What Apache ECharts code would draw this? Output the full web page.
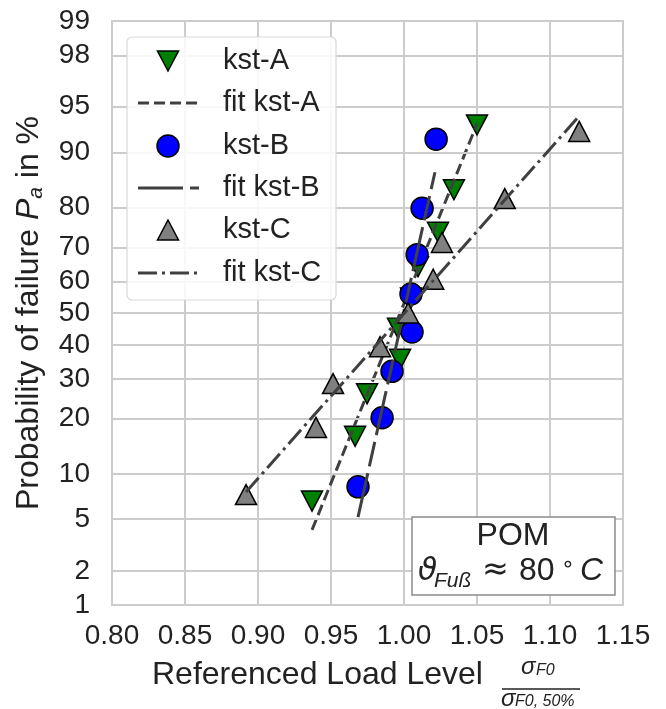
<!DOCTYPE html>
<html>
<head>
<meta charset="utf-8">
<script src="https://cdn.jsdelivr.net/npm/echarts@6/dist/echarts.min.js"></script>
<style>
html, body { margin: 0; padding: 0; background: #fff; }
#chart { width: 666px; height: 709px; }
</style>
</head>
<body>
<div id="chart"></div>
<script>
// kst-A (green, down triangles)
const kstAX = [0.937, 0.9665, 0.9747, 0.9973, 0.9959, 1.0048, 1.0096, 1.0233, 1.0342, 1.050];
const kstAP = [6.7, 16.3, 26.0, 35.6, 45.2, 54.8, 64.4, 74.0, 83.7, 93.3];
// kst-B (blue circles)
const kstBX = [0.9685, 0.985, 0.9918, 1.0055, 1.0048, 1.009, 1.0124, 1.022];
const kstBP = [8.3, 20.2, 32.1, 44.0, 56.0, 67.9, 79.8, 91.7];
// kst-C (grey up triangles)
const kstCX = [0.8918, 0.9397, 0.9514, 0.9836, 1.0028, 1.020, 1.026, 1.069, 1.120];
const kstCP = [7.4, 18.1, 28.7, 39.4, 50.0, 60.6, 71.3, 81.9, 92.6];
// fit lines (end points)
const fitAX = [0.937, 1.050];
const fitAP = [4.2, 93.4];
const fitBX = [0.9685, 1.0212];
const fitBP = [5.2, 86.9];
const fitCX = [0.8918, 1.1195];
const fitCP = [7.7, 94.1];
// y ticks in %
const yTicks = [1, 2, 5, 10, 20, 30, 40, 50, 60, 70, 80, 90, 95, 98, 99];

const FONT = 'Liberation Sans, Arial, sans-serif';
const TXT = '#222222';
const LINE = '#404040';

// inverse normal cdf, p in percent (probability paper)
function probit(p) {
  const q0 = p / 100;
  const a = [-39.69683028665376, 220.9460984245205, -275.9285104469687, 138.3577518672690, -30.66479806614716, 2.506628277459239];
  const b = [-54.47609879822406, 161.5858368580409, -155.6989798598866, 66.80131188771972, -13.28068155288572];
  const c = [-0.007784894002430293, -0.3223964580411365, -2.400758277161838, -2.549732539343734, 4.374664141464968, 2.938163982698783];
  const d = [0.007784695709041462, 0.3224671290700398, 2.445134137142996, 3.754408661907416];
  const pl = 0.02425;
  let q, r;
  if (q0 < pl) {
    q = Math.sqrt(-2 * Math.log(q0));
    return (((((c[0]*q+c[1])*q+c[2])*q+c[3])*q+c[4])*q+c[5]) / ((((d[0]*q+d[1])*q+d[2])*q+d[3])*q+1);
  }
  if (q0 > 1 - pl) {
    q = Math.sqrt(-2 * Math.log(1 - q0));
    return -(((((c[0]*q+c[1])*q+c[2])*q+c[3])*q+c[4])*q+c[5]) / ((((d[0]*q+d[1])*q+d[2])*q+d[3])*q+1);
  }
  q = q0 - 0.5; r = q * q;
  return (((((a[0]*r+a[1])*r+a[2])*r+a[3])*r+a[4])*r+a[5])*q / (((((b[0]*r+b[1])*r+b[2])*r+b[3])*r+b[4])*r+1);
}

const toPts = (xs, ps) => xs.map((x, i) => [x, probit(ps[i])]);
const yTickVals = yTicks.map(probit);

const chart = echarts.init(document.getElementById('chart'));

// legend (drawn by hand)
const legX = 168, legRows = [61, 103, 146, 188, 230, 273];
const legendItems = [];
legendItems.push({ type: 'rect', shape: { x: 127, y: 37, width: 209, height: 263, r: 5 },
  style: { fill: 'rgba(255,255,255,0.85)', stroke: '#d9d9d9', lineWidth: 1.2 }, z: 50 });
legendItems.push({ type: 'polygon', shape: { points: [[legX-10.5, legRows[0]-10], [legX+10.5, legRows[0]-10], [legX, legRows[0]+10]] },
  style: { fill: '#008000', stroke: '#000', lineWidth: 1.5 }, z: 51 });
legendItems.push({ type: 'circle', shape: { cx: legX, cy: legRows[2], r: 11 },
  style: { fill: '#0000ff', stroke: '#000', lineWidth: 1.5 }, z: 51 });
legendItems.push({ type: 'polygon', shape: { points: [[legX-10.5, legRows[4]+10], [legX+10.5, legRows[4]+10], [legX, legRows[4]-10]] },
  style: { fill: '#808080', stroke: '#000', lineWidth: 1.5 }, z: 51 });
[[1, [11, 5]], [3, [45, 7, 25, 7]], [5, [19, 5, 3, 5]]].forEach(([row, dash]) => {
  legendItems.push({ type: 'line', shape: { x1: 138, y1: legRows[row], x2: 199, y2: legRows[row] },
    style: { stroke: LINE, lineWidth: 3, lineDash: dash }, z: 51 });
});
['kst-A', 'fit kst-A', 'kst-B', 'fit kst-B', 'kst-C', 'fit kst-C'].forEach((t, i) => {
  legendItems.push({ type: 'text', x: 223, y: legRows[i], z: 51,
    style: { text: t, font: '29px ' + FONT, fill: TXT, textAlign: 'left', textVerticalAlign: 'middle' } });
});

// annotation box
const boxItems = [
  { type: 'rect', shape: { x: 412, y: 517, width: 203, height: 78 },
    style: { fill: '#fff', stroke: '#8c8c8c', lineWidth: 1.5 }, z: 50 },
  { type: 'text', x: 513, y: 536, z: 51, style: { text: 'POM', font: '32px ' + FONT, fill: TXT, textAlign: 'center', textVerticalAlign: 'middle' } },
  { type: 'text', x: 418, y: 572, z: 51, style: { text: 'ϑ', font: 'italic 31px DejaVu Sans, ' + FONT, fill: TXT, textAlign: 'left', textVerticalAlign: 'middle' } },
  { type: 'text', x: 434, y: 581, z: 51, style: { text: 'Fuß', font: 'italic 21px ' + FONT, fill: TXT, textAlign: 'left', textVerticalAlign: 'middle' } },
  { type: 'text', x: 482, y: 571, z: 51, style: { text: '≈', font: '32px DejaVu Sans, ' + FONT, fill: TXT, textAlign: 'left', textVerticalAlign: 'middle' } },
  { type: 'text', x: 519, y: 571, z: 51, style: { text: '80', font: '32px ' + FONT, fill: TXT, textAlign: 'left', textVerticalAlign: 'middle' } },
  { type: 'text', x: 561, y: 565, z: 51, style: { text: '∘', font: '22px DejaVu Sans, ' + FONT, fill: TXT, textAlign: 'left', textVerticalAlign: 'middle' } },
  { type: 'text', x: 580, y: 571, z: 51, style: { text: 'C', font: 'italic 32px ' + FONT, fill: TXT, textAlign: 'left', textVerticalAlign: 'middle' } }
];

// x axis title with fraction
const xTitle = [
  { type: 'text', x: 152, y: 675, style: { text: 'Referenced Load Level', font: '32px ' + FONT, fill: TXT, textAlign: 'left', textVerticalAlign: 'middle' } },
  { type: 'text', x: 521, y: 667, style: { text: 'σ', font: 'italic 24px ' + FONT, fill: TXT, textAlign: 'left', textVerticalAlign: 'middle' } },
  { type: 'text', x: 536, y: 671, style: { text: 'F0', font: 'italic 16px ' + FONT, fill: TXT, textAlign: 'left', textVerticalAlign: 'middle' } },
  { type: 'line', shape: { x1: 502, y1: 689, x2: 580, y2: 689 }, style: { stroke: TXT, lineWidth: 1.5 } },
  { type: 'text', x: 501, y: 699, style: { text: 'σ', font: 'italic 24px ' + FONT, fill: TXT, textAlign: 'left', textVerticalAlign: 'middle' } },
  { type: 'text', x: 515, y: 702, style: { text: 'F0, 50%', font: 'italic 16px ' + FONT, fill: TXT, textAlign: 'left', textVerticalAlign: 'middle' } }
];

const option = {
  animation: false,
  backgroundColor: '#ffffff',
  grid: { left: 112, top: 21, width: 511, height: 584, show: true, borderColor: '#cccccc', borderWidth: 2,
    containLabel: false, outerBoundsMode: 'none' },
  xAxis: {
    type: 'value', min: 0.8, max: 1.15, interval: 0.05,
    axisLine: { show: false }, axisTick: { show: false },
    axisLabel: { fontSize: 28, fontFamily: FONT, color: TXT, margin: 17, formatter: v => v.toFixed(2) },
    splitLine: { show: true, lineStyle: { color: '#cccccc', width: 2 } }
  },
  yAxis: {
    type: 'value', min: probit(1), max: probit(99),
    axisLine: { show: false }, axisTick: { show: false }, splitLine: { show: false },
    axisLabel: {
      customValues: yTickVals, fontSize: 28, fontFamily: FONT, color: TXT, margin: 22,
      formatter: v => {
        let best = 0;
        yTickVals.forEach((t, i) => { if (Math.abs(t - v) < Math.abs(yTickVals[best] - v)) best = i; });
        return String(yTicks[best]);
      }
    },
    name: '{n|Probability of failure }{i|P}{s|a}{n| in %}',
    nameLocation: 'middle', nameRotate: 90, nameGap: 65,
    nameTextStyle: {
      rich: {
        n: { fontSize: 32, fontFamily: FONT, color: TXT, lineHeight: 36 },
        i: { fontSize: 32, fontFamily: FONT, fontStyle: 'italic', color: TXT, lineHeight: 36 },
        s: { fontSize: 21, fontFamily: FONT, fontStyle: 'italic', color: TXT, verticalAlign: 'bottom', lineHeight: 24 }
      }
    }
  },
  graphic: [].concat(legendItems, boxItems, xTitle),
  series: [
    {
      name: 'grid', type: 'line', data: [], silent: true,
      markLine: {
        silent: true, symbol: ['none', 'none'], animation: false,
        label: { show: false },
        lineStyle: { color: '#cccccc', width: 2, type: 'solid' },
        data: yTickVals.map(v => ({ yAxis: v }))
      }
    },
    {
      name: 'kst-A', type: 'scatter', data: toPts(kstAX, kstAP), z: 3,
      symbol: 'triangle', symbolRotate: 180, symbolSize: [21, 20],
      itemStyle: { color: '#008000', borderColor: '#000', borderWidth: 1.5, opacity: 1 }
    },
    {
      name: 'fit kst-A', type: 'line', data: toPts(fitAX, fitAP), z: 4, showSymbol: false,
      lineStyle: { color: LINE, width: 3, type: [11, 5] }
    },
    {
      name: 'kst-B', type: 'scatter', data: toPts(kstBX, kstBP), z: 5,
      symbol: 'circle', symbolSize: 22,
      itemStyle: { color: '#0000ff', borderColor: '#000', borderWidth: 1.5, opacity: 1 }
    },
    {
      name: 'fit kst-B', type: 'line', data: toPts(fitBX, fitBP), z: 6, showSymbol: false,
      lineStyle: { color: LINE, width: 3, type: [45, 7, 25, 7] }
    },
    {
      name: 'kst-C', type: 'scatter', data: toPts(kstCX, kstCP), z: 7,
      symbol: 'triangle', symbolSize: [21, 20],
      itemStyle: { color: '#808080', borderColor: '#000', borderWidth: 1.5, opacity: 1 }
    },
    {
      name: 'fit kst-C', type: 'line', data: toPts(fitCX, fitCP), z: 8, showSymbol: false,
      lineStyle: { color: LINE, width: 3, type: [19, 5, 3, 5] }
    }
  ]
};

chart.setOption(option);
</script>
</body>
</html>
